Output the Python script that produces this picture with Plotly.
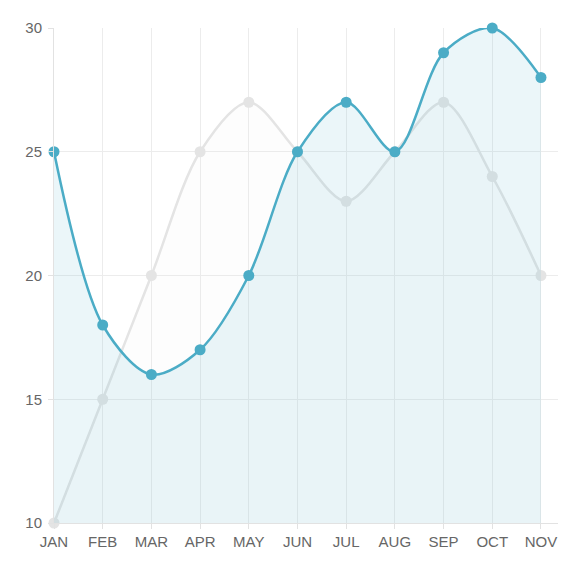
import plotly.graph_objects as go

months = ["JAN", "FEB", "MAR", "APR", "MAY", "JUN", "JUL", "AUG", "SEP", "OCT", "NOV"]
gray_values = [10, 15, 20, 25, 27, 25, 23, 25, 27, 24, 20]
blue_values = [25, 18, 16, 17, 20, 25, 27, 25, 29, 30, 28]
y_ticks = [10, 15, 20, 25, 30]

x_pos = list(range(len(months)))

fig = go.Figure()
fig.add_trace(go.Scatter(
    x=x_pos, y=gray_values, mode="lines+markers",
    line=dict(color="rgb(228,228,228)", width=2.5, shape="spline", smoothing=0.9),
    marker=dict(color="rgb(228,228,228)", size=11),
    fill="tozeroy", fillcolor="rgba(220,220,220,0.07)",
    hoverinfo="skip", showlegend=False, cliponaxis=False,
))
fig.add_trace(go.Scatter(
    x=x_pos, y=blue_values, mode="lines+markers",
    line=dict(color="rgb(75,172,198)", width=2.5, shape="spline", smoothing=0.9),
    marker=dict(color="rgb(75,172,198)", size=11),
    fill="tozeroy", fillcolor="rgba(75,172,198,0.11)",
    hoverinfo="skip", showlegend=False, cliponaxis=False,
))

fig.update_layout(
    width=558, height=546,
    margin=dict(l=46, r=8, t=20, b=31, autoexpand=False),
    paper_bgcolor="white", plot_bgcolor="white",
    font=dict(family="Liberation Sans, Arial, sans-serif", size=15, color="#666666"),
    xaxis=dict(
        range=[0, 10.35], tickmode="array", tickvals=x_pos, ticktext=months,
        showgrid=True, gridcolor="#ececec", gridwidth=1,
        showline=True, linecolor="#e2e2e2", linewidth=1,
        ticks="outside", ticklen=5, tickcolor="#e2e2e2",
        zeroline=False, fixedrange=True, automargin=False,
    ),
    yaxis=dict(
        range=[10, 30], tickmode="array", tickvals=y_ticks,
        showgrid=True, gridcolor="#ececec", gridwidth=1,
        showline=True, linecolor="#e2e2e2", linewidth=1,
        ticks="outside", ticklen=5, tickcolor="#e2e2e2",
        ticklabelstandoff=3,
        zeroline=False, fixedrange=True, automargin=False,
    ),
)

fig.write_html("out.html", config={"displayModeBar": False})
